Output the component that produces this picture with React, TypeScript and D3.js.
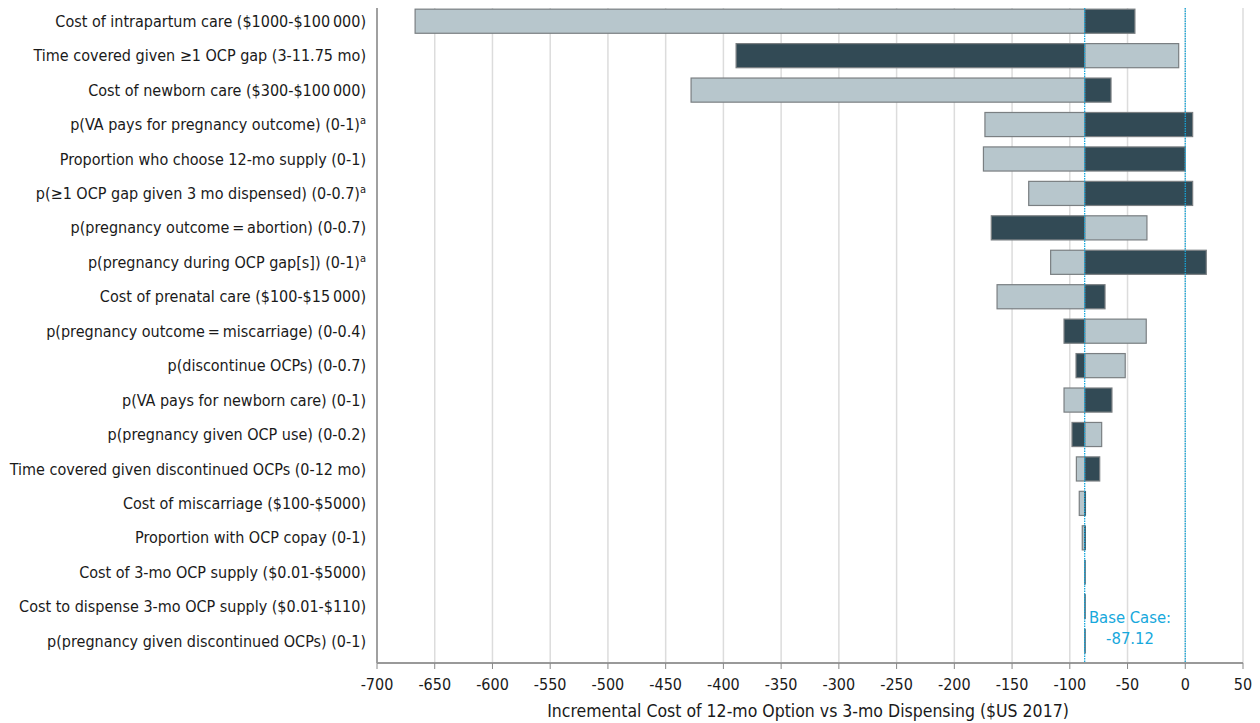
import React from "react";
import * as d3 from "d3";

const labels: string[] = [
  "Cost of intrapartum care ($1000-$100\u2009000)",
  "Time covered given \u22651 OCP gap (3-11.75 mo)",
  "Cost of newborn care ($300-$100\u2009000)",
  "p(VA pays for pregnancy outcome) (0-1)|a",
  "Proportion who choose 12-mo supply (0-1)",
  "p(\u22651 OCP gap given 3 mo dispensed) (0-0.7)|a",
  "p(pregnancy outcome\u2009=\u2009abortion) (0-0.7)",
  "p(pregnancy during OCP gap[s]) (0-1)|a",
  "Cost of prenatal care ($100-$15\u2009000)",
  "p(pregnancy outcome\u2009=\u2009miscarriage) (0-0.4)",
  "p(discontinue OCPs) (0-0.7)",
  "p(VA pays for newborn care) (0-1)",
  "p(pregnancy given OCP use) (0-0.2)",
  "Time covered given discontinued OCPs (0-12 mo)",
  "Cost of miscarriage ($100-$5000)",
  "Proportion with OCP copay (0-1)",
  "Cost of 3-mo OCP supply ($0.01-$5000)",
  "Cost to dispense 3-mo OCP supply ($0.01-$110)",
  "p(pregnancy given discontinued OCPs) (0-1)",
];

// value reached at the light end of each bar
const lightValues: number[] = [
  -667, -5.7, -428, -173.5, -174.8, -135.6, -33.2, -116.6, -163, -33.8,
  -52, -105, -72.4, -94.3, -91.8, -89.2, -87.12, -87.12, -87.12,
];
// value reached at the dark end of each bar
const darkValues: number[] = [
  -43.6, -389, -64.3, 6.4, 0, 6.4, -168, 18.2, -69.5, -105,
  -94.6, -63.5, -98.1, -74.1, -86.2, -86.3, -86.6, -86.6, -86.6,
];

const baseCase = -87.12;
const xTicks: number[] = d3.range(-700, 51, 50);
const axisTitle = "Incremental Cost of 12-mo Option vs 3-mo Dispensing ($US 2017)";

const W = 1260;
const H = 723;
const left = 377;
const right = 1243;
const top = 8;
const bottom = 663;

const FONT = "'Liberation Sans Narrow', 'DejaVu Sans Condensed', 'Open Sans', sans-serif";

export default function App() {
  const x = d3.scaleLinear().domain([-700, 50]).range([left, right]);
  const y = d3
    .scaleBand<string>()
    .domain(labels)
    .range([4, 4 + 19 * 34.44])
    .paddingInner(0.3)
    .paddingOuter(0.15);
  const bw = y.bandwidth();
  const bx = x(baseCase);

  const lightFill = "#b7c6cc";
  const darkFill = "#324a55";
  const edge = "#7a7f82";
  const cyan = "#17a8dc";

  return (
    <svg
      width={W}
      height={H}
      style={{ position: "absolute", left: 0, top: 0, background: "#fff" }}
      fontFamily={FONT}
    >
      {xTicks.map((t) => (
        <line
          key={"g" + t}
          x1={x(t)}
          x2={x(t)}
          y1={top}
          y2={bottom}
          stroke="#dcdcdc"
          strokeWidth={1.5}
        />
      ))}
      {labels.map((l, i) => {
        const yy = y(l)!;
        const lv = lightValues[i];
        const dv = darkValues[i];
        const lx0 = Math.min(x(lv), bx);
        const lw = Math.abs(x(lv) - bx);
        const dx0 = Math.min(x(dv), bx);
        const dw = Math.abs(x(dv) - bx);
        return (
          <g key={"b" + i}>
            {lw > 0.2 && (
              <rect x={lx0} y={yy} width={lw} height={bw} fill={lightFill} stroke={edge} strokeWidth={1.2} />
            )}
            <rect x={dx0} y={yy} width={Math.max(dw, 0.6)} height={bw} fill={darkFill} stroke={dw > 2 ? edge : darkFill} strokeWidth={dw > 2 ? 1.2 : 0.6} />
          </g>
        );
      })}
      <line x1={bx} x2={bx} y1={top} y2={bottom} stroke={cyan} strokeWidth={1.3} strokeDasharray="1.5 1" />
      <line x1={x(0)} x2={x(0)} y1={top} y2={bottom} stroke={cyan} strokeWidth={1.3} strokeDasharray="1.5 1" />
      <line x1={left} x2={left} y1={top} y2={bottom} stroke="#888" strokeWidth={1.5} />
      <line x1={left} x2={right} y1={bottom} y2={bottom} stroke="#999" strokeWidth={2} />
      {xTicks.map((t) => (
        <g key={"t" + t}>
          <line x1={x(t)} x2={x(t)} y1={bottom} y2={bottom + 6} stroke="#888" strokeWidth={1} />
          <text x={x(t)} y={bottom + 27} textAnchor="middle" fontSize={16} fill="#1a1a1a">
            {t}
          </text>
        </g>
      ))}
      <text x={808} y={717} textAnchor="middle" fontSize={17.5} fill="#1a1a1a">
        {axisTitle}
      </text>
      {labels.map((l) => {
        const [main, sup] = l.split("|");
        return (
          <text
            key={"l" + l}
            x={366}
            y={y(l)! + bw / 2}
            dy="0.35em"
            textAnchor="end"
            fontSize={16}
            fill="#1a1a1a"
          >
            {main}
            {sup && (
              <tspan fontSize={11} dy="-0.55em">
                {sup}
              </tspan>
            )}
          </text>
        );
      })}
      <text x={1130} y={623} textAnchor="middle" fontSize={16.5} fill={cyan}>
        Base Case:
      </text>
      <text x={1130} y={644} textAnchor="middle" fontSize={16.5} fill={cyan}>
        {baseCase}
      </text>
    </svg>
  );
}
